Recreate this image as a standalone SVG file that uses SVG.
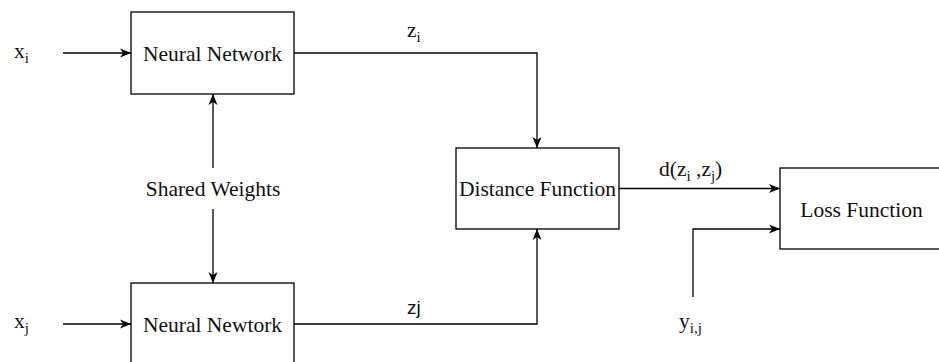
<svg xmlns="http://www.w3.org/2000/svg" width="939" height="362" viewBox="0 0 939 362">
<style>
.box{fill:#fff;stroke:#000;stroke-width:1.3}
.ln{fill:none;stroke:#000;stroke-width:1.3}
.t{font-family:"Liberation Serif","Times New Roman",serif;font-size:21.5px;fill:#111}
.s{font-size:15px}
.m{text-anchor:middle}
</style>
<defs>
<marker id="ah" markerUnits="userSpaceOnUse" markerWidth="12" markerHeight="10" viewBox="0 0 12 10" refX="11" refY="5" orient="auto">
<path d="M0,0.5 L11,5 L0,9.5 L3,5 z" fill="#000"/>
</marker>
</defs>
<g id="connectors">
<path class="ln" d="M63,53 L131,53" marker-end="url(#ah)"/>
<path class="ln" d="M63,324 L131,324" marker-end="url(#ah)"/>
<path class="ln" d="M213,168 L213,94" marker-end="url(#ah)"/>
<path class="ln" d="M213,209 L213,283" marker-end="url(#ah)"/>
<path class="ln" d="M294,53 L537,53 L537,148" marker-end="url(#ah)"/>
<path class="ln" d="M294,324 L537,324 L537,229" marker-end="url(#ah)"/>
<path class="ln" d="M619,188.5 L780,188.5" marker-end="url(#ah)"/>
<path class="ln" d="M693,297 L693,229 L780,229" marker-end="url(#ah)"/>
</g>
<g id="nn1">
<rect class="box" x="131" y="12" width="163" height="82"/>
<text class="t m" x="212.5" y="61">Neural Network</text>
</g>
<g id="nn2">
<rect class="box" x="131" y="283" width="163" height="82"/>
<text class="t m" x="212.5" y="332">Neural Newtork</text>
</g>
<g id="dist">
<rect class="box" x="456" y="148" width="163" height="81"/>
<text class="t m" x="537.5" y="196">Distance Function</text>
</g>
<g id="loss">
<rect class="box" x="780" y="168" width="163" height="81"/>
<text class="t m" x="861.5" y="217">Loss Function</text>
</g>
<g id="labels">
<text class="t m" x="213" y="196">Shared Weights</text>
<text class="t" x="14" y="58">x<tspan class="s" dy="5">i</tspan></text>
<text class="t" x="14" y="328">x<tspan class="s" dy="5">j</tspan></text>
<text class="t" x="407" y="37">z<tspan class="s" dy="5">i</tspan></text>
<text x="407" y="314" style="font-family:'Liberation Sans',Arial,sans-serif;font-size:19px;fill:#111">zj</text>
<text class="t" x="659" y="176">d(z<tspan class="s" dy="5">i</tspan><tspan dy="-5"> ,z</tspan><tspan class="s" dy="5">j</tspan><tspan dy="-5">)</tspan></text>
<text class="t" x="679" y="328">y<tspan class="s" dy="5">i,j</tspan></text>
</g>
</svg>
